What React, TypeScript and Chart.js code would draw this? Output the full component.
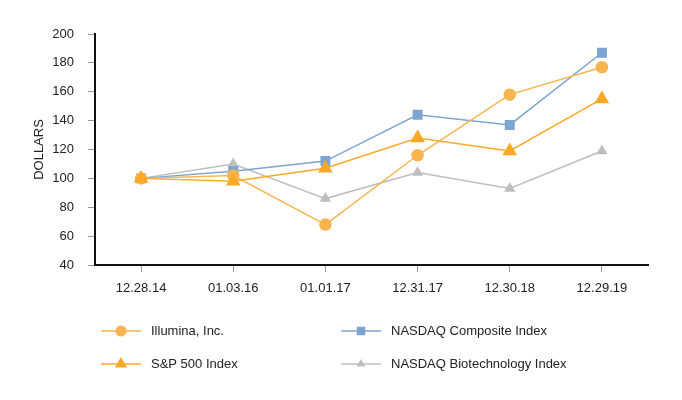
import React, { useEffect, useRef } from "react";
import { Chart, registerables } from "chart.js";

Chart.register(...registerables);

const categories = ["12.28.14", "01.03.16", "01.01.17", "12.31.17", "12.30.18", "12.29.19"];
const illumina = [100, 102, 68, 116, 158, 177];
const nasdaqComposite = [100, 105, 112, 144, 137, 187];
const sp500 = [100, 98, 107, 128, 119, 155];
const nasdaqBiotech = [100, 110, 86, 104, 93, 119];
const yTicks = [40, 60, 80, 100, 120, 140, 160, 180, 200];

const FONT = "'Liberation Sans', Arial, sans-serif";

function drawMarker(ctx: CanvasRenderingContext2D, style: string, r: number, x: number, y: number) {
  ctx.beginPath();
  if (style === "circle") {
    ctx.arc(x, y, r, 0, Math.PI * 2);
  } else if (style === "rect") {
    const s = Math.SQRT1_2 * r;
    ctx.rect(x - s, y - s, 2 * s, 2 * s);
  } else if (style === "triangle") {
    const a = -Math.PI / 2;
    ctx.moveTo(x + Math.cos(a) * r, y + Math.sin(a) * r);
    ctx.lineTo(x + Math.cos(a + (2 * Math.PI) / 3) * r, y + Math.sin(a + (2 * Math.PI) / 3) * r);
    ctx.lineTo(x + Math.cos(a + (4 * Math.PI) / 3) * r, y + Math.sin(a + (4 * Math.PI) / 3) * r);
    ctx.closePath();
  }
  ctx.fill();
}

const legendPlugin = {
  id: "customLegend",
  afterDraw(chart: any) {
    const ctx = chart.ctx;
    const items = [
      { ds: 0, x: 101, y: 331 },
      { ds: 1, x: 341, y: 331 },
      { ds: 2, x: 101, y: 364 },
      { ds: 3, x: 341, y: 364 },
    ];
    ctx.save();
    for (const it of items) {
      const d = chart.data.datasets[it.ds];
      ctx.strokeStyle = d.borderColor;
      ctx.lineWidth = 1.5;
      ctx.beginPath();
      ctx.moveTo(it.x, it.y);
      ctx.lineTo(it.x + 40, it.y);
      ctx.stroke();
      ctx.fillStyle = d.pointBackgroundColor;
      drawMarker(ctx, d.pointStyle, d.pointRadius, it.x + 20, it.y);
      ctx.fillStyle = "#222";
      ctx.font = `13px ${FONT}`;
      ctx.textBaseline = "middle";
      ctx.textAlign = "left";
      ctx.fillText(d.label, it.x + 50, it.y);
    }
    ctx.restore();
  },
};

export default function App() {
  const ref = useRef<HTMLCanvasElement>(null);
  useEffect(() => {
    document.body.style.margin = "0";
    const chart = new Chart(ref.current!, {
      type: "line",
      data: {
        labels: categories,
        datasets: [
          {
            label: "Illumina, Inc.",
            data: illumina,
            borderColor: "#F8B44E",
            backgroundColor: "#F8B44E",
            pointBackgroundColor: "#F8B44E",
            pointBorderColor: "#F8B44E",
            pointStyle: "circle",
            pointRadius: 5.5,
            borderWidth: 1.5,
            order: 1,
          },
          {
            label: "NASDAQ Composite Index",
            data: nasdaqComposite,
            borderColor: "#7CA5D2",
            backgroundColor: "#7CA5D2",
            pointBackgroundColor: "#7CA5D2",
            pointBorderColor: "#7CA5D2",
            pointStyle: "rect",
            pointRadius: 6,
            borderWidth: 1.5,
            order: 2,
          },
          {
            label: "S&P 500 Index",
            data: sp500,
            borderColor: "#F9A927",
            backgroundColor: "#F9A927",
            pointBackgroundColor: "#F9A927",
            pointBorderColor: "#F9A927",
            pointStyle: "triangle",
            pointRadius: 7,
            borderWidth: 1.5,
            order: 0,
          },
          {
            label: "NASDAQ Biotechnology Index",
            data: nasdaqBiotech,
            borderColor: "#BEBEBE",
            backgroundColor: "#BEBEBE",
            pointBackgroundColor: "#BEBEBE",
            pointBorderColor: "#BEBEBE",
            pointStyle: "triangle",
            pointRadius: 5,
            borderWidth: 1.5,
            order: 3,
          },
        ] as any,
      },
      options: {
        animation: false,
        responsive: false,
        maintainAspectRatio: false,
        layout: { padding: { left: 0, right: 34, top: 34, bottom: 0 } },
        plugins: {
          legend: { display: false },
          tooltip: { enabled: false },
        },
        elements: { line: { tension: 0 } },
        scales: {
          x: {
            type: "category",
            offset: true,
            grid: {
              offset: false,
              drawOnChartArea: false,
              drawTicks: true,
              tickLength: 7,
              color: "#999",
            },
            border: { display: true, color: "#111", width: 2 },
            ticks: {
              color: "#222",
              padding: 9,
              font: { family: FONT, size: 13 },
              maxRotation: 0,
            },
            afterFit: (s: any) => {
              s.height = 135;
            },
          },
          y: {
            min: 40,
            max: 200,
            afterBuildTicks: (s: any) => {
              s.ticks = yTicks.map((v) => ({ value: v }));
            },
            grid: {
              drawOnChartArea: false,
              drawTicks: true,
              tickLength: 7,
              color: "#999",
            },
            border: { display: true, color: "#111", width: 2 },
            ticks: {
              color: "#222",
              padding: 14,
              font: { family: FONT, size: 13 },
            },
            title: {
              display: true,
              text: "DOLLARS",
              color: "#222",
              font: { family: FONT, size: 13 },
              padding: { top: 32, bottom: 0 },
            },
            afterFit: (s: any) => {
              s.width = 95;
            },
          },
        },
      } as any,
      plugins: [legendPlugin],
    });
    return () => chart.destroy();
  }, []);
  return (
    <div style={{ position: "relative", width: 682, height: 400 }}>
      <canvas ref={ref} width={682} height={400} style={{ width: 682, height: 400 }} />
    </div>
  );
}
